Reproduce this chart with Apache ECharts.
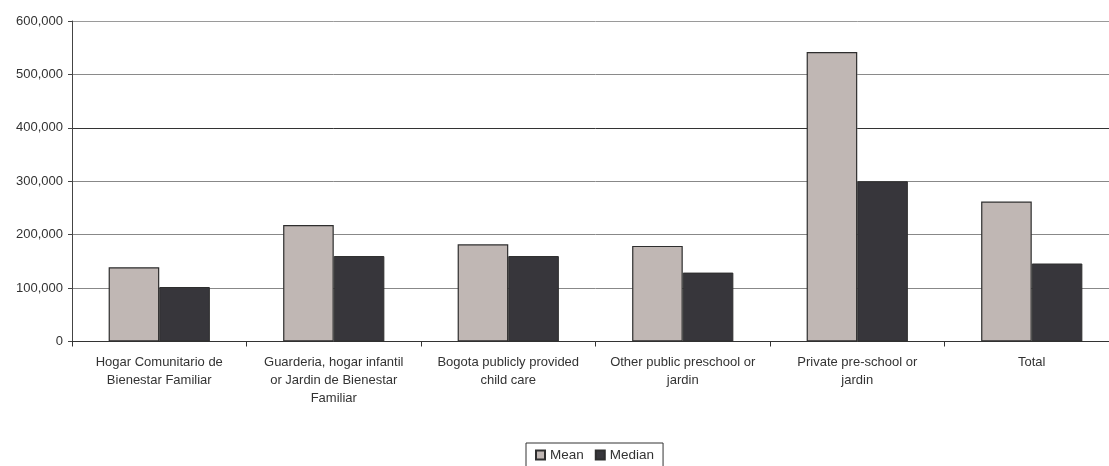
<!DOCTYPE html>
<html>
<head>
<meta charset="utf-8">
<style>
  html, body { margin: 0; padding: 0; background: #ffffff; overflow: hidden; width: 1109px; height: 466px; }
  #chart { width: 1130px; height: 466px; }
</style>
<script src="https://cdn.jsdelivr.net/npm/echarts@6/dist/echarts.min.js"></script>
</head>
<body>
<div id="chart"></div>
<script>
// Childcare cost by type of provider
const categories = [
  'Hogar Comunitario de\nBienestar Familiar',
  'Guarderia, hogar infantil\nor Jardin de Bienestar\nFamiliar',
  'Bogota publicly provided\nchild care',
  'Other public preschool or\njardin',
  'Private pre-school or\njardin',
  'Total'
];
const meanValues   = [139000, 218000, 182000, 179000, 542000, 262000];
const medianValues = [102000, 160000, 160000, 129000, 300000, 146000];
const yTicks = { min: 0, max: 600000, interval: 100000 };

const FONT = '"Liberation Sans", Arial, sans-serif';
const chart = echarts.init(document.getElementById('chart'), null, { renderer: 'canvas' });

chart.setOption({
  animation: false,
  backgroundColor: '#ffffff',
  textStyle: { fontFamily: FONT },
  // the drawing surface is wider than the page; the plot runs past its right edge
  grid: { left: 72, width: 1047, top: 21, height: 320.5, containLabel: false },
  legend: {
    data: ['Mean', 'Median'],
    left: 526,
    top: 443,
    padding: [5, 9, 5, 9],
    itemGap: 11,
    itemWidth: 9,
    itemHeight: 9,
    icon: 'rect',
    borderColor: '#333333',
    borderWidth: 1,
    textStyle: { fontFamily: FONT, fontSize: 13.5, color: '#333333' }
  },
  xAxis: {
    type: 'category',
    data: categories,
    boundaryGap: true,
    axisLine: { lineStyle: { color: '#333333', width: 1 } },
    axisTick: { show: true, length: 5, lineStyle: { color: '#333333' } },
    axisLabel: {
      interval: 0,
      margin: 12,
      fontFamily: FONT,
      fontSize: 13,
      lineHeight: 18,
      color: '#333333',
      align: 'center'
    },
    splitLine: { show: false }
  },
  yAxis: {
    type: 'value',
    min: yTicks.min,
    max: yTicks.max,
    interval: yTicks.interval,
    axisLine: { show: true, lineStyle: { color: '#444444', width: 1 } },
    axisTick: { show: true, length: 4, lineStyle: { color: '#444444' } },
    axisLabel: {
      margin: 9,
      fontFamily: FONT,
      fontSize: 13,
      color: '#333333',
      formatter: v => v.toLocaleString('en-US')
    },
    splitLine: {
      show: true,
      lineStyle: {
        width: 1,
        color: ['#888888', '#888888', '#888888', '#888888', '#333333', '#8a8a8a', '#9a9a9a']
      }
    }
  },
  series: [
    {
      name: 'Mean',
      type: 'bar',
      data: meanValues,
      barGap: '0%',
      barCategoryGap: '42%',
      itemStyle: { color: '#c0b7b4', borderColor: '#2e2e2e', borderWidth: 1.2 }
    },
    {
      name: 'Median',
      type: 'bar',
      data: medianValues,
      itemStyle: { color: '#37363b', borderColor: '#2e2e2e', borderWidth: 1 }
    }
  ]
});
</script>
</body>
</html>
